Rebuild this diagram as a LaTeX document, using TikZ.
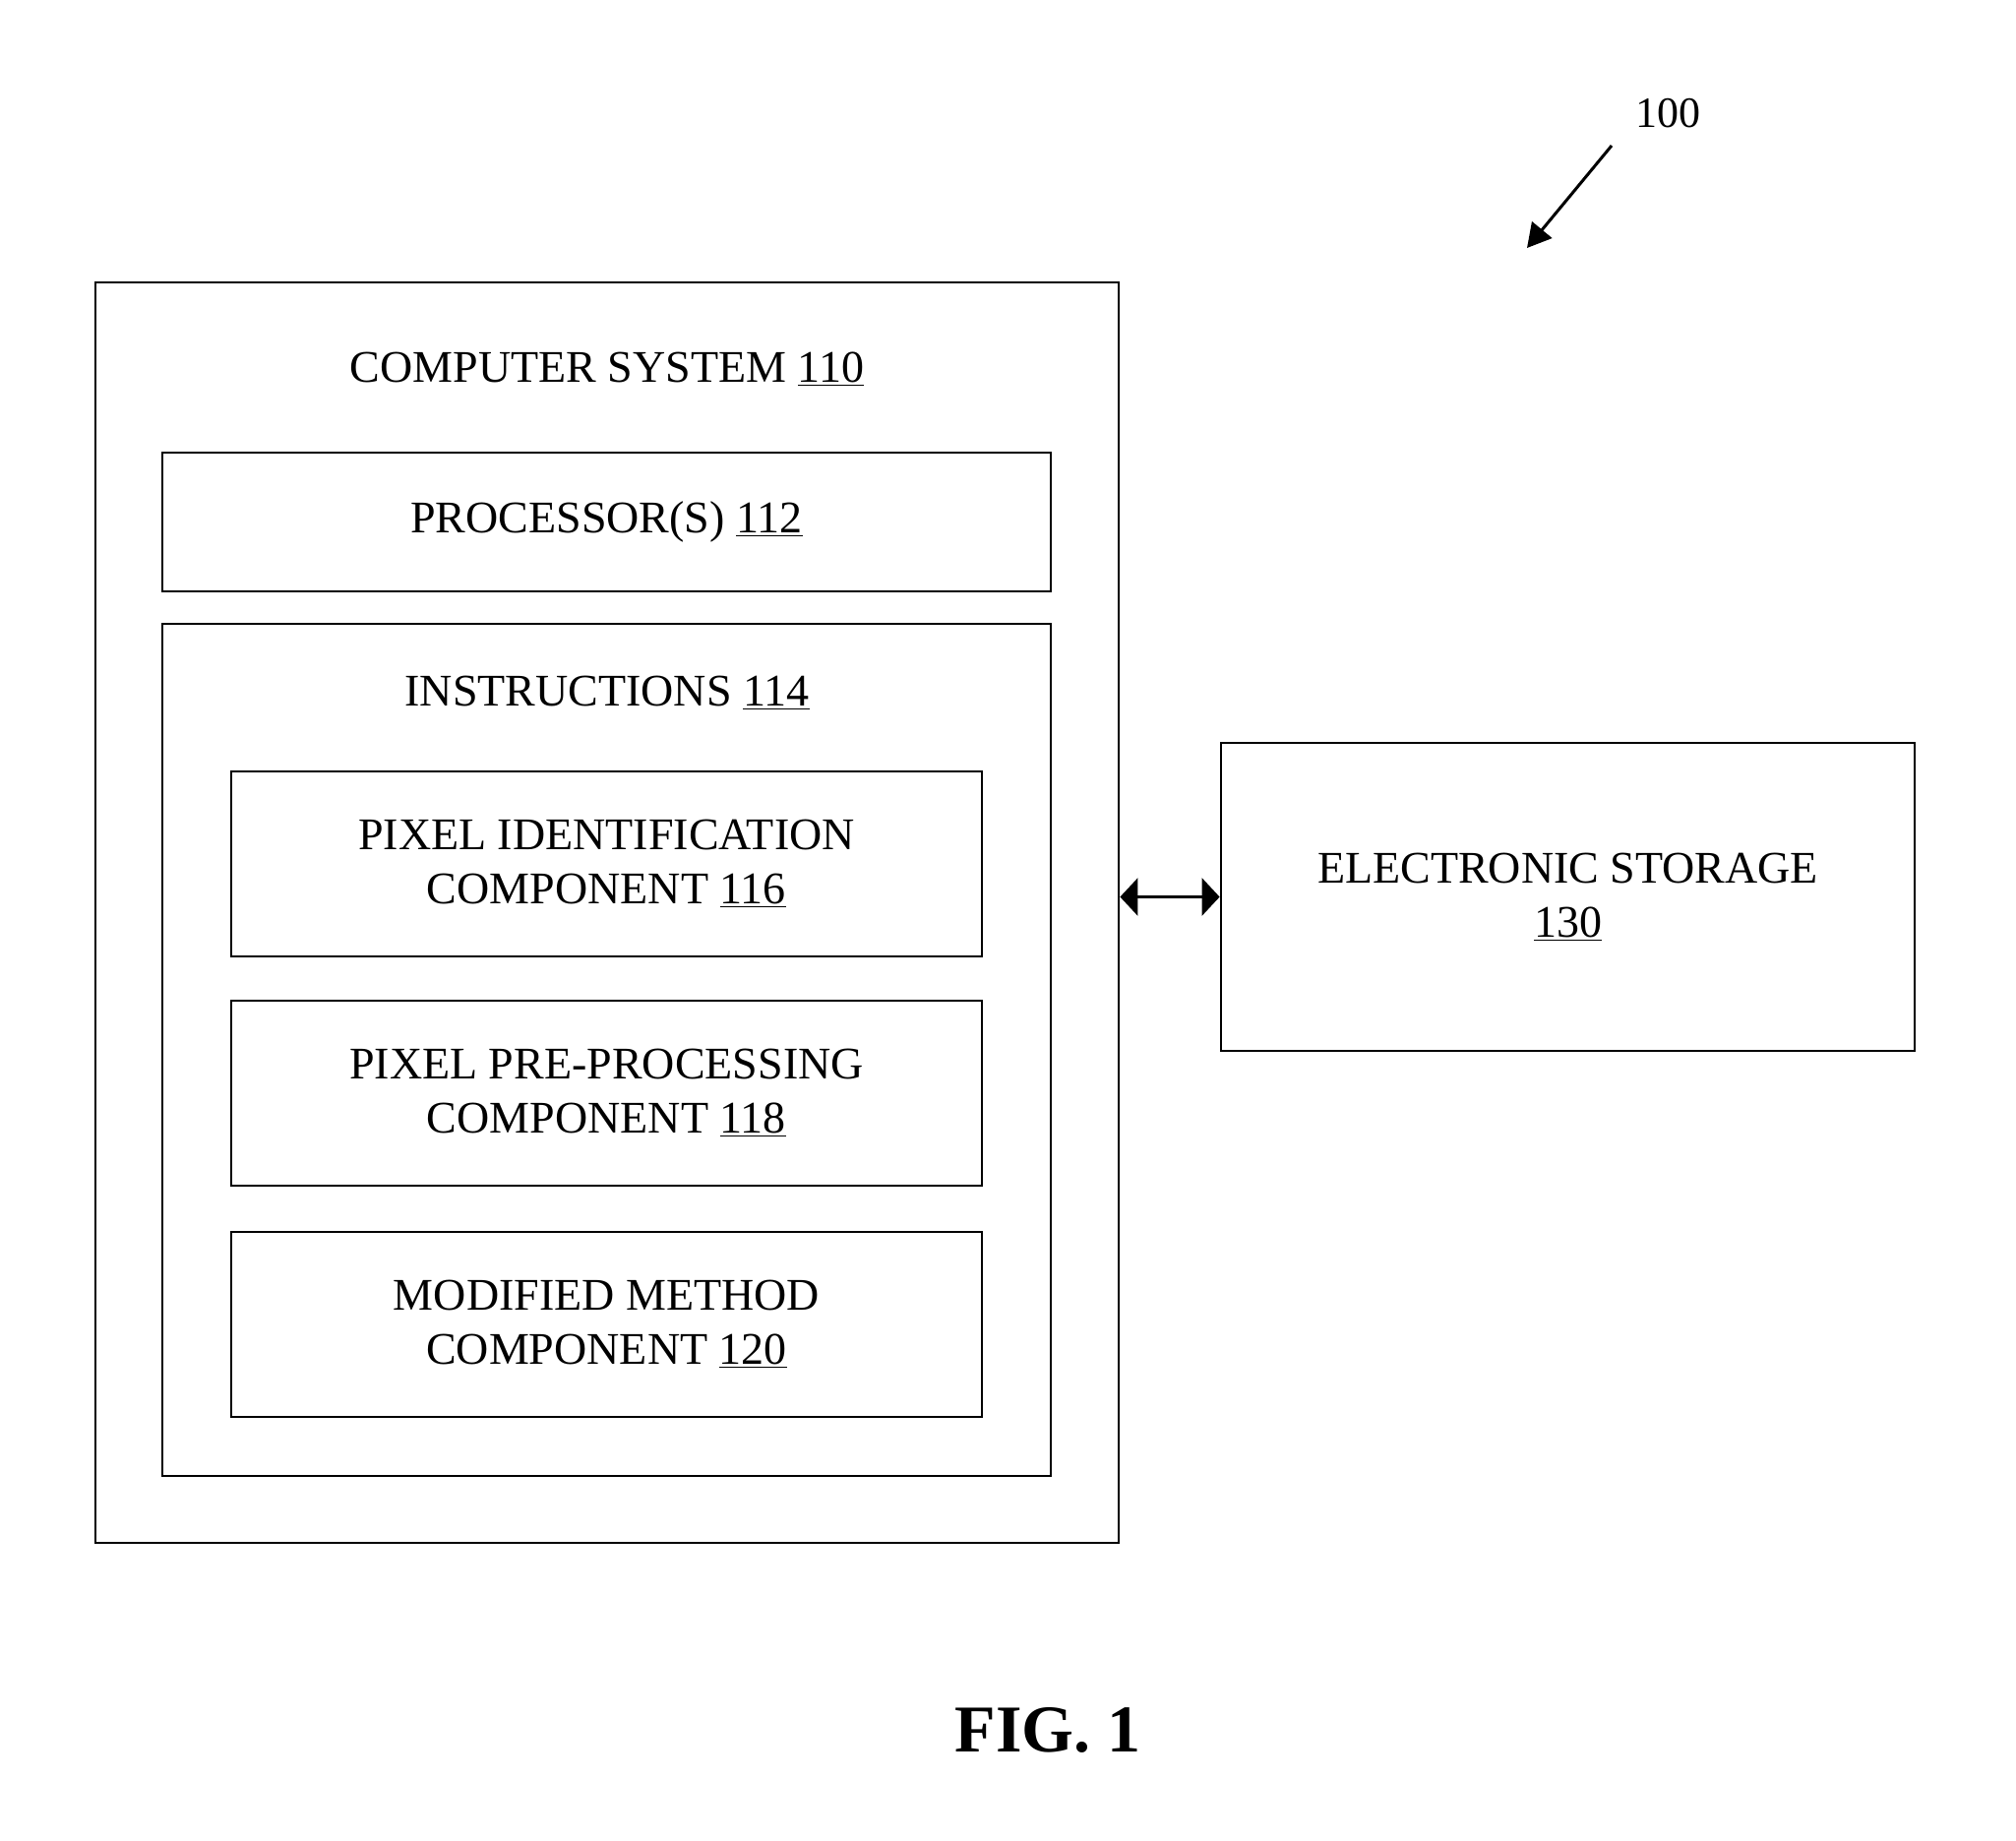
\documentclass[tikz,border=0pt]{standalone}
\usepackage{fontspec}
\setmainfont{Liberation Serif}
\usetikzlibrary{arrows.meta}

\begin{document}
\begin{tikzpicture}[x=0.5pt, y=-0.5pt,
    box/.style={draw, line width=1.4pt, inner sep=0pt, align=center,
                font=\fontsize{23}{27.5}\selectfont},
    lbl/.style={inner sep=0pt, align=center, font=\fontsize{23}{27.5}\selectfont}]
  \useasboundingbox (0,0) rectangle (2049,1870);

  % Outer system box and its title
  \node[box, minimum width=520pt, minimum height=640.5pt] (sys) at (617, 927.5) {};
  \node[lbl] (systitle) at (617, 375) {COMPUTER SYSTEM \underline{110}};

  % Processor and instructions
  \node[box, minimum width=451.5pt, minimum height=70.5pt] (proc) at (616.5, 530.5) {PROCESSOR(S) \underline{112}};
  \node[box, minimum width=451.5pt, minimum height=433pt] (instr) at (616.5, 1067) {};
  \node[lbl] (instrtitle) at (617, 704) {INSTRUCTIONS \underline{114}};

  % Components
  \node[box, minimum width=381.5pt, minimum height=94pt] (pixid) at (616.5, 878)
    {PIXEL IDENTIFICATION\\COMPONENT \underline{116}};
  \node[box, minimum width=381.5pt, minimum height=94pt] (pixpre) at (616.5, 1111)
    {PIXEL PRE-PROCESSING\\COMPONENT \underline{118}};
  \node[box, minimum width=381.5pt, minimum height=94pt] (modmeth) at (616.5, 1346)
    {MODIFIED METHOD\\COMPONENT \underline{120}};

  % Electronic storage
  \node[box, minimum width=352.5pt, minimum height=156.5pt] (store) at (1593.5, 911.5)
    {ELECTRONIC STORAGE\\\underline{130}};

  % Connections
  \draw[line width=1.4pt, {Triangle[length=9pt, width=19pt]}-{Triangle[length=9pt, width=19pt]}]
    (sys.east |- store.west) -- (store.west);

  % Reference numeral
  \node[lbl, font=\fontsize{22}{25}\selectfont] (ref) at (1695, 115) {100};
  \coordinate (reftail) at (1638, 148);
  \coordinate (reftip) at (1552, 252);
  \draw[line width=1.5pt, -{Triangle[length=12pt, width=13pt]}] (reftail) -- (reftip);

  % Caption
  \node[inner sep=0pt, font=\fontsize{34}{38}\selectfont\bfseries] (cap) at (1065, 1758) {FIG. 1};
\end{tikzpicture}
\end{document}
